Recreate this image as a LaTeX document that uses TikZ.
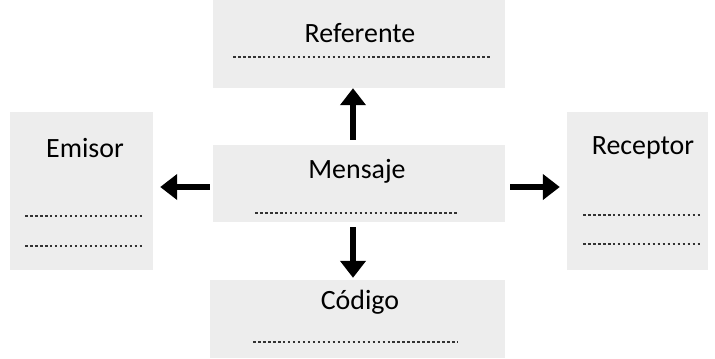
\documentclass[tikz,border=0pt]{standalone}
\usepackage{fontspec}
\setmainfont{Carlito}
\usetikzlibrary{arrows.meta}
\begin{document}
\begin{tikzpicture}[x=1bp,y=-1bp,
  box/.style={fill=black!7, draw=none, inner sep=0pt},
  lbl/.style={font=\fontsize{28}{30}\selectfont, text=black, inner sep=0pt},
  dots/.style={line width=2.4pt, dash pattern=on 2.6pt off 2.4pt, black!80},
  arr/.style={line width=5.5bp, -{Triangle[width=25bp,length=17bp]}, black}
]
\useasboundingbox (0,0) rectangle (715,358);
% boxes
\node[box, minimum width=292bp, minimum height=88bp] (ref) at (359,44) {};
\node[box, minimum width=143bp, minimum height=158bp] (emi) at (81.5,191) {};
\node[box, minimum width=292bp, minimum height=77bp] (men) at (359,183.5) {};
\node[box, minimum width=141bp, minimum height=158bp] (rec) at (637.5,191) {};
\node[box, minimum width=295bp, minimum height=78bp] (cod) at (357.5,319) {};
% labels
\node[lbl] (treff) at (360,33) {Referente};
\node[lbl] (temi) at (85,148) {Emisor};
\node[lbl] (tmen) at (357,171) {Mensaje};
\node[lbl] (trec) at (643,148) {Receptor};
\node[lbl] (tcod) at (360,302) {Código};
% dotted lines
\coordinate (r1) at (233,57); \coordinate (r2) at (490,57);
\draw[dots] (r1) -- (r2);
\coordinate (e1) at (25,216); \coordinate (e2) at (143,216);
\draw[dots] (e1) -- (e2);
\coordinate (e3) at (25,246); \coordinate (e4) at (143,246);
\draw[dots] (e3) -- (e4);
\coordinate (m1) at (255,213); \coordinate (m2) at (458,213);
\draw[dots] (m1) -- (m2);
\coordinate (c1) at (253,342); \coordinate (c2) at (458,342);
\draw[dots] (c1) -- (c2);
\coordinate (p1) at (583,215); \coordinate (p2) at (700,215);
\draw[dots] (p1) -- (p2);
\coordinate (p3) at (583,244); \coordinate (p4) at (700,244);
\draw[dots] (p3) -- (p4);
% arrows
\draw[arr, shorten <=5bp, shorten >=0bp] (men.north -| 353,0) -- (ref.south -| 353,0);
\draw[arr, shorten <=3bp, shorten >=7bp] (men.west |- 0,187) -- (emi.east |- 0,187);
\draw[arr, shorten <=5bp, shorten >=7bp] (men.east |- 0,187) -- (rec.west |- 0,187);
\draw[arr, shorten <=5bp, shorten >=2bp] (men.south -| 353,0) -- (cod.north -| 353,0);
\end{tikzpicture}
\end{document}
